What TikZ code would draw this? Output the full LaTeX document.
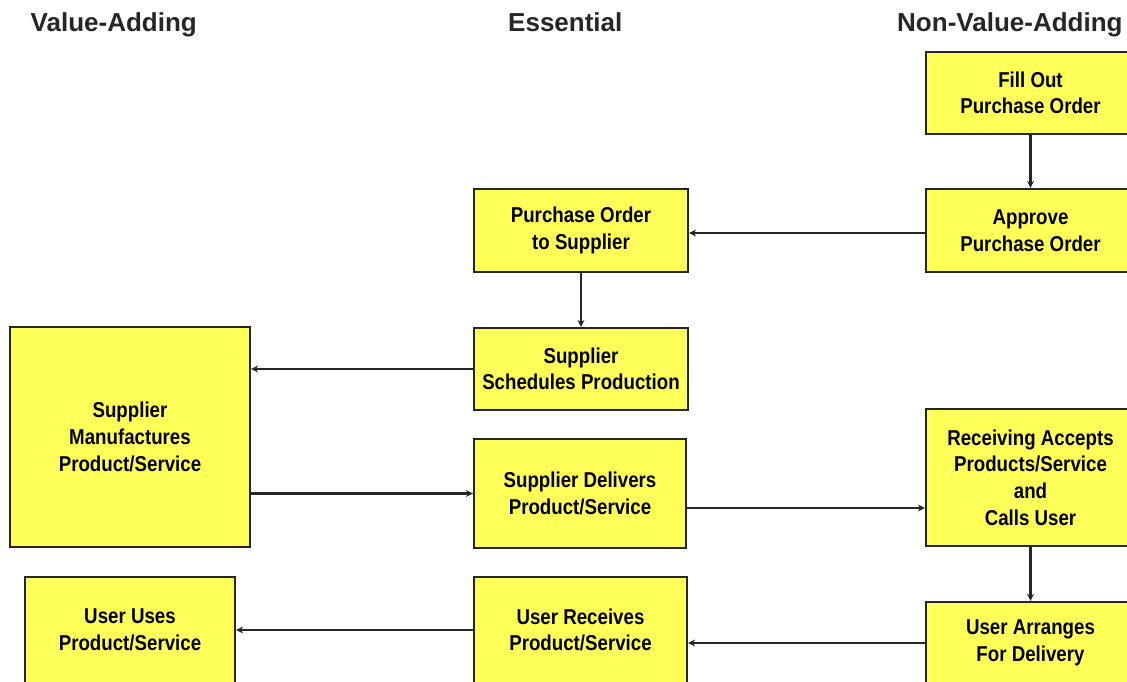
\documentclass[tikz,border=0pt]{standalone}
\usepackage{fontspec}
\setmainfont{Liberation Sans}
\newfontfamily\boxfont[FakeStretch=0.87]{Liberation Sans}
\usetikzlibrary{arrows.meta}
\definecolor{boxyellow}{RGB}{255,255,90}
\tikzset{
  procbox/.style={draw=black!85, fill=boxyellow, line width=2.2pt, align=center,
    inner sep=0pt, font=\boxfont\bfseries\fontsize{21.5}{26.6}\selectfont},
  header/.style={anchor=base west, inner sep=0pt, font=\bfseries\fontsize{26}{30}\selectfont, text=black!85},
  flow/.style={draw=black!85, line width=2.4pt, -{Stealth[length=7pt,width=7pt]}}
}
\begin{document}
\begin{tikzpicture}[x=1pt,y=-1pt]
\useasboundingbox (0,0) rectangle (1127,681);
\clip (0,0) rectangle (1127,681);
\fill[white] (0,0) rectangle (1127,681);
% headers
\node[header] (h1) at (30.5,31) {Value-Adding};
\node[header] (h2) at (508,31) {Essential};
\node[header] (h3) at (897,31) {Non-Value-Adding};
% boxes
\node[procbox, minimum width=209pt, minimum height=82pt] (fill) at (1030.5,93) {Fill Out\\Purchase Order};
\node[procbox, minimum width=209pt, minimum height=83pt] (approve) at (1030.5,230.5) {Approve\\Purchase Order};
\node[procbox, minimum width=214pt, minimum height=83pt] (po) at (581,230.5) {Purchase Order\\to Supplier};
\node[procbox, minimum width=214pt, minimum height=82pt] (sched) at (581,369) {Supplier\\Schedules Production};
\node[procbox, minimum width=240pt, minimum height=220pt] (manuf) at (130,437) {Supplier\\Manufactures\\Product/Service};
\node[procbox, minimum width=212pt, minimum height=109pt] (deliv) at (580,493.5) {Supplier Delivers\\Product/Service};
\node[procbox, minimum width=209pt, minimum height=137pt] (recv) at (1030.5,477.5) {Receiving Accepts\\Products/Service\\and\\Calls User};
\node[procbox, minimum width=209pt, minimum height=82pt] (arr) at (1030.5,643) {User Arranges\\For Delivery};
\node[procbox, minimum width=210pt, minimum height=106pt] (uses) at (130,630) {User Uses\\Product/Service};
\node[procbox, minimum width=213pt, minimum height=106pt] (rec) at (580.5,630) {User Receives\\Product/Service};
% connectors
\draw[flow] (fill.south) -- (approve.north);
\path ([yshift=-2.5pt]approve.west) coordinate (a1);
\draw[flow] (a1) -- (a1 -| po.east);
\draw[flow] (po.south) -- (sched.north);
\draw[flow] (sched.west) -- (sched.west -| manuf.east);
\draw[flow] (deliv.west -| manuf.east) -- (deliv.west);
\path ([yshift=-14.5pt]deliv.east) coordinate (d1);
\draw[flow] (d1) -- (d1 -| recv.west);
\draw[flow] (recv.south) -- (arr.north);
\draw[flow] (arr.west) -- (arr.west -| rec.east);
\draw[flow] (rec.west) -- (uses.east);
\end{tikzpicture}
\end{document}
